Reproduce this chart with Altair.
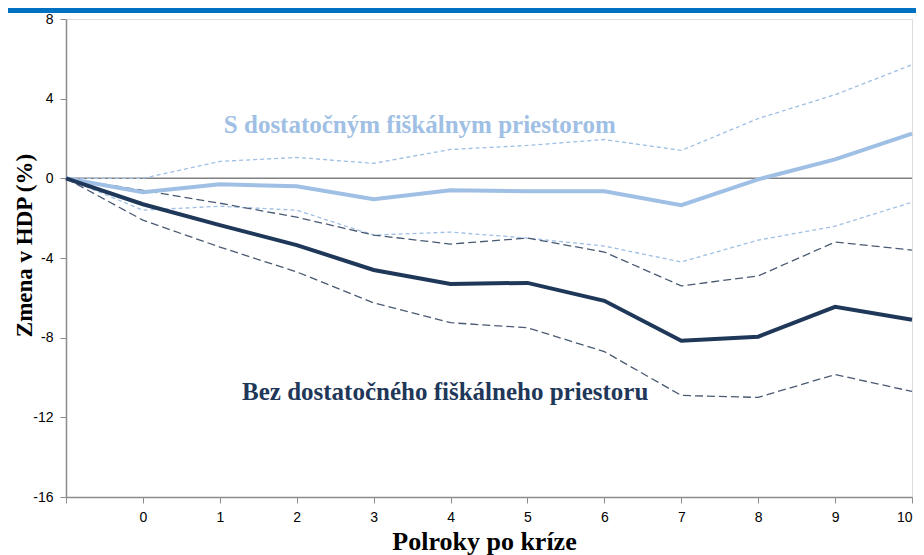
import altair as alt
import pandas as pd

periods = [-1, 0, 1, 2, 3, 4, 5, 6, 7, 8, 9, 10]
with_space = [0, -0.7, -0.3, -0.4, -1.05, -0.6, -0.65, -0.65, -1.35, -0.05, 0.95, 2.25]
with_space_hi = [0, 0, 0.85, 1.05, 0.75, 1.45, 1.65, 1.95, 1.4, 3.0, 4.2, 5.7]
with_space_lo = [0, -1.6, -1.4, -1.6, -2.85, -2.7, -3.0, -3.4, -4.2, -3.1, -2.4, -1.2]
without_space = [0, -1.3, -2.35, -3.35, -4.6, -5.3, -5.25, -6.15, -8.15, -7.95, -6.45, -7.1]
without_space_hi = [0, -0.6, -1.25, -1.95, -2.85, -3.3, -3.0, -3.7, -5.4, -4.9, -3.2, -3.6]
without_space_lo = [0, -2.1, -3.45, -4.7, -6.25, -7.25, -7.5, -8.7, -10.9, -11.0, -9.85, -10.7]

y_ticks = [-16, -12, -8, -4, 0, 4, 8]
x_ticks = periods

label_texts = ["S dostatočným fiškálnym priestorom", "Bez dostatočného fiškálneho priestoru"]
label_x = [3.6, 3.93]
label_y = [2.7, -10.75]

LIGHT = "#9fbfe4"
DARK = "#1f3859"
DARK_DASH = "#4a5a72"

x_enc = alt.X("x:Q", scale=alt.Scale(domain=[-1, 10], nice=False, zero=False),
              axis=alt.Axis(values=x_ticks, title="Polroky po kríze",
                            labelExpr="datum.value < 0 ? '' : datum.value + ''",
                            grid=False, tickSize=6, labelPadding=7,
                            labelFont="Liberation Sans", labelFontSize=14, labelColor="#000",
                            titleFont="Liberation Serif", titleFontSize=26, titleFontWeight="bold",
                            titleColor="#000", titleBaseline="alphabetic", titleY=52, titleX=418,
                            domainColor="#8c8c8c", tickColor="#8c8c8c", domainWidth=1.5))
y_enc = alt.Y("y:Q", scale=alt.Scale(domain=[-16, 8], nice=False, zero=False),
              axis=alt.Axis(values=y_ticks, title="Zmena v HDP (%)", grid=False,
                            labelExpr="datum.value + ''",
                            tickSize=6, labelPadding=7,
                            labelFont="Liberation Sans", labelFontSize=14, labelColor="#000",
                            titleFont="Liberation Serif", titleFontSize=23, titleFontWeight="bold",
                            titleColor="#000", titleBaseline="alphabetic", titleX=-35, titleY=226,
                            domainColor="#8c8c8c", tickColor="#8c8c8c", domainWidth=1.5))


def series(vals):
    return pd.DataFrame({"x": periods, "y": vals})


zero = alt.Chart(pd.DataFrame({"y": [0]})).mark_rule(color="#808080", strokeWidth=1.5).encode(y=y_enc)

lines = []
for vals, color, dash, w in [
    (with_space_hi, LIGHT, [4, 3], 1.3),
    (with_space_lo, LIGHT, [4, 3], 1.3),
    (without_space_hi, DARK_DASH, [8, 4], 1.3),
    (without_space_lo, DARK_DASH, [8, 4], 1.3),
    (with_space, LIGHT, None, 4),
    (without_space, DARK, None, 4),
]:
    kw = dict(color=color, strokeWidth=w)
    if dash:
        kw["strokeDash"] = dash
    lines.append(alt.Chart(series(vals)).mark_line(**kw).encode(x=x_enc, y=y_enc))

labels_df = pd.DataFrame({"x": label_x, "y": label_y, "t": label_texts, "c": [LIGHT, DARK]})
labels = alt.Chart(labels_df).mark_text(font="Liberation Serif", fontSize=25, fontWeight="bold",
                                        align="center", baseline="middle").encode(
    x=x_enc, y=y_enc, text="t:N", color=alt.Color("c:N", scale=None))

bar = alt.Chart(pd.DataFrame({"a": [0]})).mark_rect(color="#0070c0").encode(
    x=alt.value(-58), x2=alt.value(850), y=alt.value(-11), y2=alt.value(-6))

chart = alt.layer(zero, *lines, labels, bar).properties(
    width=846, height=478,
    autosize=alt.AutoSizeParams(type="none"),
    padding={"left": 58, "top": 11, "right": 4, "bottom": 60},
).configure_view(stroke="#a6a6a6", strokeWidth=1.5).configure(background="white")

chart.save("out.html", embed_options={"renderer": "svg", "actions": False})
